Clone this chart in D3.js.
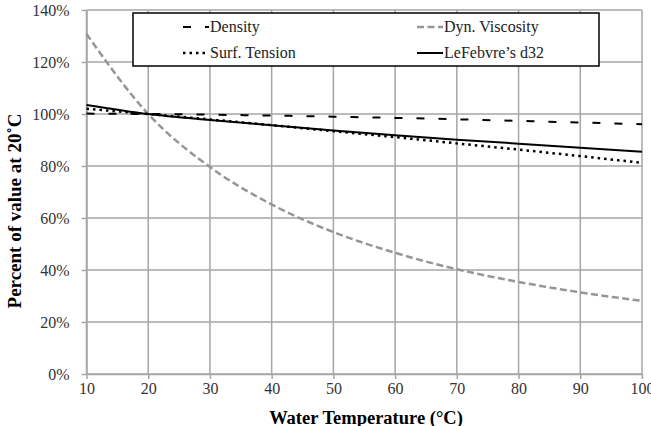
<!DOCTYPE html>
<html>
<head>
<meta charset="utf-8">
<script src="https://cdn.jsdelivr.net/npm/d3@7/dist/d3.min.js"></script>
<style>
  html, body { margin: 0; padding: 0; background: #fff; }
  svg { display: block; }
  svg text { font-family: "Liberation Serif", "Times New Roman", Times, serif; }
</style>
</head>
<body>
<svg id="chart" width="651" height="426"></svg>
<script>
// Data (percent of value at 20 °C)
const temperatures = [10, 20, 30, 40, 50, 60, 70, 80, 90, 100];
const density      = [100.15, 100, 99.74, 99.40, 98.98, 98.50, 97.96, 97.36, 96.71, 96.1];
const viscosity    = [130.8, 100, 79.6, 65.2, 54.6, 46.6, 40.3, 35.4, 31.4, 28.1];
const surfTension  = [102.0, 100, 97.9, 95.7, 93.4, 91.1, 88.7, 86.3, 83.8, 81.2];
const lefebvreD32  = [103.5, 100, 97.7, 95.7, 93.7, 91.8, 90.1, 88.6, 87.0, 85.5];
const xTicks = [10, 20, 30, 40, 50, 60, 70, 80, 90, 100];
const yTicks = [0, 20, 40, 60, 80, 100, 120, 140];
const seriesNames = ["Density", "Dyn. Viscosity", "Surf. Tension", "LeFebvre\u2019s d32"];
const xTitle = "Water Temperature (\u00B0C)";
const yTitle = "Percent of value at 20\u02DAC";

(function () {
const FONT = "'Liberation Serif', 'Times New Roman', Times, serif";
const series = [
  { name: seriesNames[0], values: density,     color: "#000", width: 2,   dash: "8,14",  legendPos: [0, 0] },
  { name: seriesNames[1], values: viscosity,   color: "#969696", width: 2.5, dash: "7,3.5", legendPos: [1, 0] },
  { name: seriesNames[2], values: surfTension, color: "#000", width: 2.5, dash: "2.5,4", legendPos: [0, 1] },
  { name: seriesNames[3], values: lefebvreD32, color: "#000", width: 2,   dash: null,    legendPos: [1, 1] }
];

const svg = d3.select("#chart");
const pL = 86.5, pR = 642, pT = 10, pB = 374;
const x = d3.scaleLinear().domain([10, 100]).range([pL, pR]);
const y = d3.scaleLinear().domain([0, 140]).range([pB, pT]);
const gridColor = "#a6a6a6";

// gridlines
const grid = svg.append("g");
grid.selectAll("line.h").data(yTicks).join("line").attr("class", "h")
  .attr("x1", pL).attr("x2", pR)
  .attr("y1", d => y(d)).attr("y2", d => y(d))
  .attr("stroke", gridColor).attr("stroke-width", 1.5);
grid.selectAll("line.v").data(xTicks).join("line").attr("class", "v")
  .attr("y1", pT).attr("y2", pB)
  .attr("x1", d => x(d)).attr("x2", d => x(d))
  .attr("stroke", gridColor).attr("stroke-width", 1.5);

// axes
const yAxis = svg.append("g").attr("transform", `translate(${pL},0)`)
  .call(d3.axisLeft(y).tickValues(yTicks).tickFormat(d => d + "%").tickSize(5).tickSizeOuter(0).tickPadding(12));
const xAxis = svg.append("g").attr("transform", `translate(0,${pB})`)
  .call(d3.axisBottom(x).tickValues(xTicks).tickFormat(d3.format("d")).tickSize(5).tickSizeOuter(0).tickPadding(4));
[yAxis, xAxis].forEach(a => {
  a.attr("font-family", FONT).attr("font-size", 16);
  a.select(".domain").attr("stroke", gridColor).attr("stroke-width", 1.5);
  a.selectAll(".tick line").attr("stroke", gridColor).attr("stroke-width", 1.5);
  a.selectAll(".tick text").attr("fill", "#333");
});

// lines
const line = vals => d3.line()
  .x((d, i) => x(temperatures[i]))
  .y(d => y(d))
  .curve(d3.curveMonotoneX)(vals);

series.forEach(s => {
  svg.append("path")
    .attr("d", line(s.values))
    .attr("fill", "none")
    .attr("stroke", s.color)
    .attr("stroke-width", s.width)
    .attr("stroke-dasharray", s.dash);
});

// legend
const lg = svg.append("g").attr("font-family", FONT).attr("font-size", 16);
lg.append("rect").attr("x", 133).attr("y", 13).attr("width", 466).attr("height", 53)
  .attr("fill", "#fff").attr("stroke", "#000").attr("stroke-width", 1.5);
const colX = [183, 417], rowY = [27, 53];
series.forEach(s => {
  const sx = colX[s.legendPos[0]], sy = rowY[s.legendPos[1]];
  lg.append("line").attr("x1", sx).attr("x2", sx + 26).attr("y1", sy).attr("y2", sy)
    .attr("stroke", s.color).attr("stroke-width", s.width).attr("stroke-dasharray", s.dash);
  lg.append("text").attr("x", sx + 27).attr("y", sy + 5)
    .attr("fill", "#222").text(s.name);
});

// titles
svg.append("text").attr("x", 366).attr("y", 424).attr("text-anchor", "middle")
  .attr("font-family", FONT).attr("font-size", 18.5).attr("font-weight", "bold").text(xTitle);
svg.append("text").attr("transform", "translate(21,211) rotate(-90)").attr("text-anchor", "middle")
  .attr("font-family", FONT).attr("font-size", 19).attr("font-weight", "bold").text(yTitle);
})();
</script>
</body>
</html>
